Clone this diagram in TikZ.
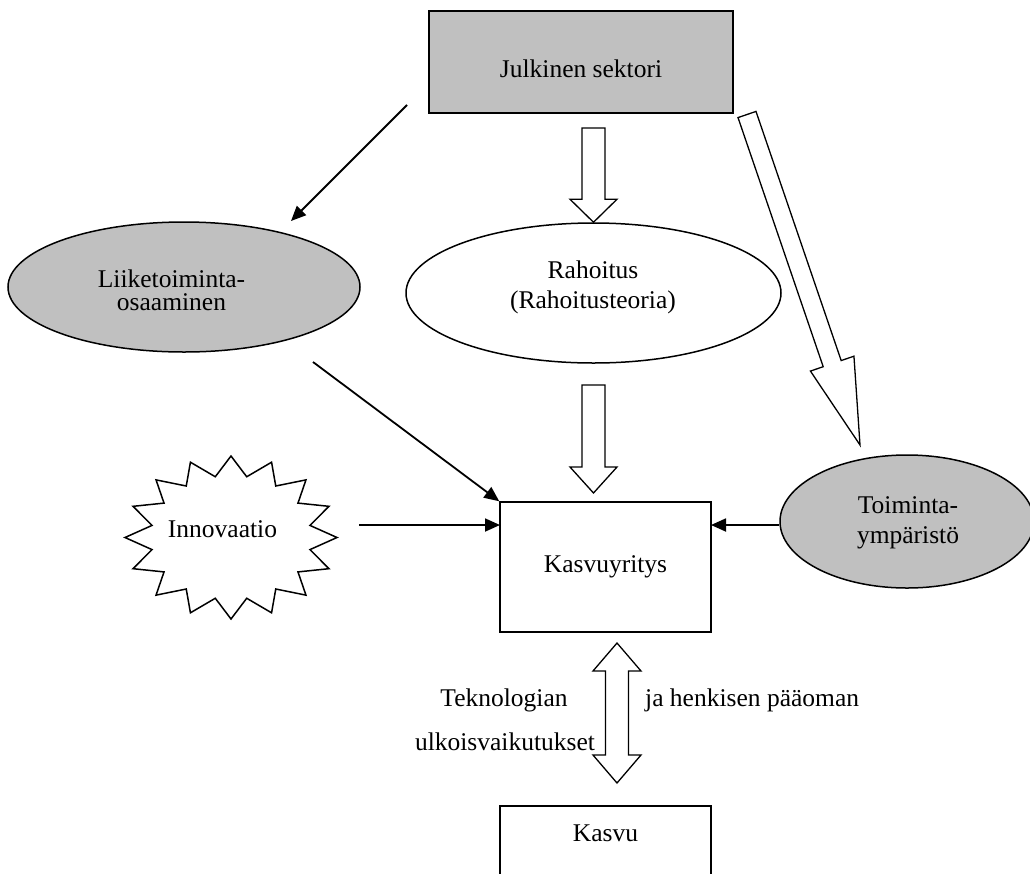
\documentclass[tikz,border=0pt]{standalone}
\usepackage{fontspec}
\setmainfont{Liberation Serif}
\usetikzlibrary{calc,arrows.meta,shapes.geometric}
\definecolor{panelgray}{RGB}{192,192,192}

% hollow block arrow: tail, tip, shaft half-width, head half-width, head length
\newcommand{\hollowarrow}[5]{%
  \coordinate (ha-h) at ($(#2)!#5!(#1)$);
  \draw[blockarrow] ($(#1)!#3!90:(#2)$) -- ($(ha-h)!#3!90:(#2)$) -- ($(ha-h)!#4!90:(#2)$)
    -- (#2) -- ($(ha-h)!#4!-90:(#2)$) -- ($(ha-h)!#3!-90:(#2)$) -- ($(#1)!#3!-90:(#2)$) -- cycle;
}
% hollow double-headed block arrow: tip a, tip b, shaft half-width, head half-width, head length
\newcommand{\hollowdouble}[5]{%
  \coordinate (hd-a) at ($(#1)!#5!(#2)$);
  \coordinate (hd-b) at ($(#2)!#5!(#1)$);
  \draw[blockarrow] (#1) -- ($(hd-a)!#4!90:(#2)$) -- ($(hd-a)!#3!90:(#2)$)
    -- ($(hd-b)!#3!90:(#2)$) -- ($(hd-b)!#4!90:(#2)$) -- (#2)
    -- ($(hd-b)!#4!-90:(#2)$) -- ($(hd-b)!#3!-90:(#2)$)
    -- ($(hd-a)!#3!-90:(#2)$) -- ($(hd-a)!#4!-90:(#2)$) -- cycle;
}

\begin{document}
\begin{tikzpicture}[x=1pt,y=-1pt,
  txt/.style={font=\fontsize{25.5}{30}\selectfont, inner sep=0pt, align=center},
  shapeline/.style={draw=black, line width=1.5pt, inner sep=0pt},
  grayfill/.style={fill=panelgray},
  blockarrow/.style={draw=black, line width=1.3pt, fill=white, line join=miter},
  link/.style={line width=1.8pt, -{Triangle[length=15pt,width=13pt]}}]
\useasboundingbox (0,0) rectangle (1030,873);
\clip (0,0) rectangle (1030,873);
\fill[white] (0,0) rectangle (1030,873);

% boxes and ellipses (multi-line texts are placed by the baseline of their last line)
\node[shapeline, grayfill, rectangle, minimum width=304pt, minimum height=102pt] (julk) at (581,62) {};
\node[txt, anchor=base] (julk-t) at (581,77) {Julkinen sektori};

\node[shapeline, grayfill, ellipse, minimum width=352pt, minimum height=130pt] (liike) at (184,287) {};
\node[txt, anchor=base, font=\fontsize{25.5}{23}\selectfont] (liike-t) at (171.5,310) {Liiketoiminta-\\osaaminen};

\node[shapeline, ellipse, fill=white, minimum width=375pt, minimum height=140pt] (rah) at (593.5,293) {};
\node[txt, anchor=base] (rah-t) at (593,308) {Rahoitus\\(Rahoitusteoria)};

\node[shapeline, grayfill, ellipse, minimum width=254pt, minimum height=133pt] (toim) at (907,521.5) {};
\node[txt, anchor=base] (toim-t) at (908,543) {Toiminta-\\ympäristö};

\node[shapeline, rectangle, fill=white, minimum width=211pt, minimum height=130pt] (kasvuyr) at (605.5,567) {};
\node[txt, anchor=base] (kasvuyr-t) at (605.5,572) {Kasvuyritys};

\node[shapeline, rectangle, fill=white, minimum width=211pt, minimum height=134pt] (kasvu) at (605.5,873) {};
\node[txt, anchor=base] (kasvu-t) at (605.5,841) {Kasvu};

% starburst
\coordinate (starc) at (231,537.5);
\draw[shapeline, fill=white, shift={(starc)}] plot[domain=0:31, samples=32, variable=\k]
  ({(1-0.24*mod(\k,2))*106*cos(90-11.25*\k)}, {-(1-0.24*mod(\k,2))*81.5*sin(90-11.25*\k)}) -- cycle;
\node[txt, anchor=base] (innov) at (222.5,537) {Innovaatio};

% labels of the double arrow
\node[txt, anchor=base] (tek) at (504,706) {Teknologian};
\node[txt, anchor=base] (ulk) at (505,750) {ulkoisvaikutukset};
\node[txt, anchor=base west] (hpo) at (645,706) {ja henkisen pääoman};

% line arrows
\coordinate (julk-out) at (407,105);
\coordinate (liike-in) at (291,221);
\draw[link] (julk-out) -- (liike-in);
\coordinate (liike-out) at (313,362);
\draw[link] (liike-out) -- (kasvuyr.north west);
\coordinate (innov-out) at (359,525);
\coordinate (kasvuyr-w) at (500,525);
\coordinate (kasvuyr-e) at (711,525);
\draw[link] (innov-out) -- (kasvuyr-w);
\draw[link] (toim.west |- kasvuyr-e) -- (kasvuyr-e);

% block arrows
\coordinate (rah-in) at (593.5,128);
\hollowarrow{rah-in}{rah.north}{11.5pt}{23.5pt}{23pt}
\coordinate (rah-out) at (593.5,385);
\coordinate (kasvuyr-n) at (593.5,493);
\hollowarrow{rah-out}{kasvuyr-n}{11.5pt}{23.5pt}{26pt}
\coordinate (julk-se) at (747,114.5);
\coordinate (toim-n) at (860,445);
\hollowarrow{julk-se}{toim-n}{9.5pt}{23pt}{86pt}
\coordinate (kasvuyr-s) at (617,643);
\coordinate (kasvu-n) at (617,783);
\hollowdouble{kasvuyr-s}{kasvu-n}{11.5pt}{24pt}{28pt}
\end{tikzpicture}
\end{document}
